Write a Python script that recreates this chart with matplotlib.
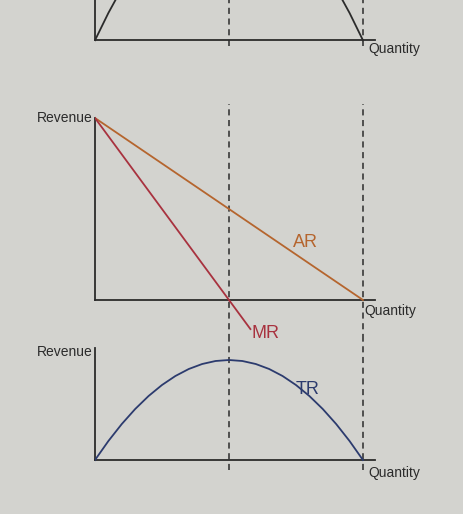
import matplotlib.pyplot as plt

# quantity axis in arbitrary units, demand hits zero at q = 10
q_lin = [0, 5, 10]
ar = [10, 5, 0]
q_mr = [0, 5, 5.8]
mr = [10, 0, -1.6]
q_tr = [0, 0.5, 1, 1.5, 2, 2.5, 3, 3.5, 4, 4.5, 5, 5.5, 6, 6.5, 7, 7.5, 8, 8.5, 9, 9.5, 10]
tr = [0, 4.75, 9, 12.75, 16, 18.75, 21, 22.75, 24, 24.75, 25,
      24.75, 24, 22.75, 21, 18.75, 16, 12.75, 9, 4.75, 0]
q_mid, q_max = 5, 10

W, H = 463, 514
bg = '#d3d3cf'
ink = '#2b2b2b'
plt.rcParams['font.family'] = ['Liberation Sans', 'DejaVu Sans']

fig = plt.figure(figsize=(W / 100, H / 100), dpi=100, facecolor=bg)


def make_axes(top_px, bottom_px):
    ax = fig.add_axes([95 / W, 1 - bottom_px / H, 280 / W, (bottom_px - top_px) / H])
    ax.set_facecolor('none')
    ax.set_xlim(0, 10.45)
    ax.axis('off')
    return ax


def axis_lines(ax, top):
    ax.plot([0, 10.45], [0, 0], color=ink, lw=1.3, clip_on=False)
    ax.plot([0, 0], [0, top], color=ink, lw=1.3, clip_on=False)
    for q in (q_mid, q_max):
        ax.axvline(q, color=ink, lw=1.1, ls=(0, (4, 3)))


# top partial panel
ax0 = make_axes(0, 46)
ax0.set_ylim(-1.0, 7)
axis_lines(ax0, 7)
ax0.plot(q_tr, tr, color=ink, lw=1.3)
ax0.text(10.2, -0.3, 'Quantity', fontsize=10, color=ink, va='top', ha='left')

# AR / MR panel
ax1 = make_axes(104, 340)
ax1.set_ylim(-2.2, 10.77)
axis_lines(ax1, 10)
ax1.plot(q_lin, ar, color='#b5652e', lw=1.3)
ax1.plot(q_mr, mr, color='#a8323f', lw=1.3)
ax1.text(7.4, 2.9, 'AR', fontsize=13, color='#b5652e')
ax1.text(5.85, -2.1, 'MR', fontsize=13, color='#a8323f')
ax1.text(10.05, -0.6, 'Quantity', fontsize=10, color=ink, va='center', ha='left')
ax1.text(-0.1, 10.0, 'Revenue', fontsize=10, color=ink, ha='right', va='center')

# TR panel
ax2 = make_axes(340, 470)
ax2.set_ylim(-2.5, 30)
axis_lines(ax2, 28)
ax2.plot(q_tr, tr, color='#2c3b6e', lw=1.3)
ax2.text(7.5, 16.5, 'TR', fontsize=13, color='#2c3b6e')
ax2.text(10.2, -1.5, 'Quantity', fontsize=10, color=ink, va='top', ha='left')
ax2.text(-0.1, 27.0, 'Revenue', fontsize=10, color=ink, ha='right', va='center')

fig.savefig('out.png', dpi=100, facecolor=bg)
